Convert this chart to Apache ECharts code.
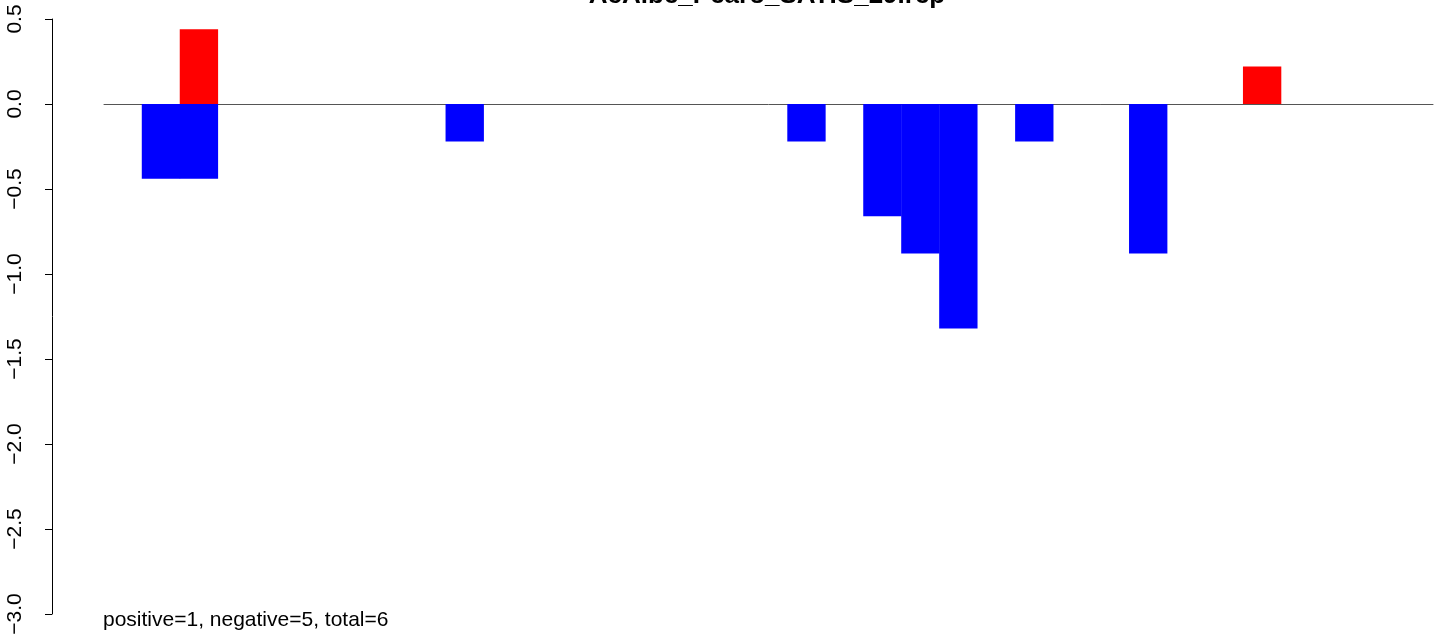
<!DOCTYPE html>
<html><head><meta charset="utf-8">
<script src="https://cdn.jsdelivr.net/npm/echarts@6/dist/echarts.min.js"></script>
<style>html,body{margin:0;padding:0;background:#fff}#c{width:1444px;height:643px}</style>
</head><body><div id="c"></div>
<script>
var titleText = "AcAlbe_Pearo_SATIS_29.rep";
var noteText = "positive=1, negative=5, total=6";
var slotCount = 35;
var negSlots = [1, 2, 9, 18, 20, 21, 22, 24, 27];
var negValues = [-0.44, -0.44, -0.22, -0.22, -0.66, -0.88, -1.32, -0.22, -0.88];
var posSlots = [2, 30];
var posValues = [0.44, 0.22];
var yTicks = [-3.0, -2.5, -2.0, -1.5, -1.0, -0.5, 0.0, 0.5];

var categories = [];
for (var i = 0; i < slotCount; i++) categories.push(String(i));
function fill(slots, vals) {
  var arr = categories.map(function(){ return null; });
  slots.forEach(function(s, k){ arr[s] = vals[k]; });
  return arr;
}
var chart = echarts.init(document.getElementById('c'), null, {renderer: 'canvas'});
var font = "Liberation Sans, Arial, sans-serif";
chart.setOption({
  animation: false,
  grid: {left: 104, right: 11, top: 19, bottom: 29, containLabel: false},
  xAxis: {
    type: 'category', data: categories, boundaryGap: true,
    axisLine: {show: true, onZero: true, lineStyle: {color: '#555555', width: 1}},
    axisTick: {show: false}, axisLabel: {show: false}, splitLine: {show: false}
  },
  yAxis: {
    type: 'value', min: yTicks[0], max: yTicks[yTicks.length - 1], interval: 0.5, offset: 52,
    axisLine: {show: true, lineStyle: {color: '#000', width: 1}},
    axisTick: {show: true, length: 7, lineStyle: {color: '#000'}},
    splitLine: {show: false},
    axisLabel: {
      rotate: 90, margin: 26, color: '#000', fontSize: 21, fontFamily: font,
      formatter: function(v){ return (v < 0 ? '\u2212' : '') + Math.abs(v).toFixed(1); }
    }
  },
  series: [
    {type: 'bar', data: fill(negSlots, negValues), barWidth: '101%', barGap: '-100%',
     itemStyle: {color: '#0000FF'}},
    {type: 'bar', data: fill(posSlots, posValues), barWidth: '101%', barGap: '-100%',
     itemStyle: {color: '#FF0000'}}
  ],
  graphic: [
    {type: 'text', x: 767, y: -17, style: {text: titleText, align: 'center', font: "bold 26px " + font, fill: '#000'}},
    {type: 'text', left: 103, top: 610, style: {text: noteText, font: "21px " + font, fill: '#000'}}
  ]
});
</script></body></html>
